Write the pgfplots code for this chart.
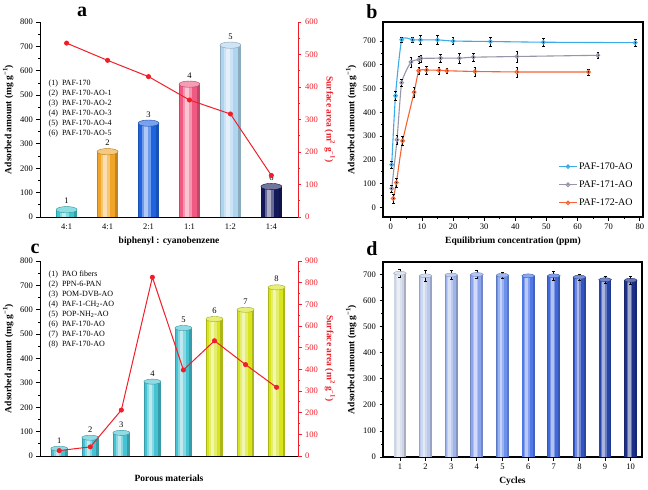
\documentclass[border=0pt]{standalone}
\usepackage{fontspec}
\setmainfont{Liberation Serif}
\usepackage{pgfplots}
\pgfplotsset{compat=1.18}
\definecolor{ca1}{RGB}{64,200,208}
\definecolor{ca2}{RGB}{240,165,40}
\definecolor{ca3}{RGB}{30,100,225}
\definecolor{ca4}{RGB}{240,90,130}
\definecolor{ca5}{RGB}{175,212,238}
\definecolor{ca6}{RGB}{20,25,90}
\definecolor{lred}{RGB}{240,30,40}
\definecolor{bblue}{RGB}{60,170,230}
\definecolor{bgray}{RGB}{150,150,170}
\definecolor{borange}{RGB}{245,100,50}
\definecolor{ccyan}{RGB}{70,195,210}
\definecolor{cyel}{RGB}{215,228,30}
\definecolor{d1}{RGB}{205,212,230}
\definecolor{d2}{RGB}{185,200,235}
\definecolor{d3}{RGB}{160,180,235}
\definecolor{d4}{RGB}{140,165,238}
\definecolor{d5}{RGB}{110,145,235}
\definecolor{d6}{RGB}{80,120,230}
\definecolor{d7}{RGB}{65,105,220}
\definecolor{d8}{RGB}{50,85,195}
\definecolor{d9}{RGB}{38,68,170}
\definecolor{d10}{RGB}{28,48,135}
\pgfdeclareplotmark{ell}{\pgfpathellipse{\pgfpointorigin}{\pgfqpoint{\pgfplotmarksize}{0pt}}{\pgfqpoint{0pt}{0.3\pgfplotmarksize}}\pgfusepathqfillstroke}
\pgfplotsset{
  base/.style={scale only axis, anchor=south west,
    /pgf/number format/assume math mode=true,
    tick label style={font=\fontsize{8.5}{10}\selectfont},
    label style={font=\fontsize{9.5}{11}\selectfont\bfseries},
    tick align=outside, major tick length=3.5pt, minor tick length=2pt,
    axis line style={line width=0.9pt,-}, every tick/.style={line width=0.8pt}},
}
% color, x, y, label
\newcommand\cylA[4]{%
 \addplot[ybar, bar shift=0pt, bar width=21pt, draw=none, fill=#1!80!black] coordinates {(#2,#3)};
 \addplot[ybar, bar shift=-1pt, bar width=16.8pt, draw=none, fill=#1] coordinates {(#2,#3)};
 \addplot[ybar, bar shift=-2pt, bar width=9.5pt, draw=none, fill=#1!65!white] coordinates {(#2,#3)};
 \addplot[ybar, bar shift=-2.5pt, bar width=4.2pt, draw=none, fill=#1!35!white] coordinates {(#2,#3)};
 \addplot[only marks, mark=ell, mark size=10.5pt, mark options={fill=#1!60!white, draw=#1!75!black, line width=0.4pt},
   nodes near coords={#4}, nodes near coords style={anchor=south, yshift=2.5pt, font=\fontsize{8.5}{10}\selectfont, black}] coordinates {(#2,#3)};}
\newcommand\cylC[4]{%
 \addplot[ybar, bar shift=0pt, bar width=17pt, draw=none, fill=#1!80!black] coordinates {(#2,#3)};
 \addplot[ybar, bar shift=-0.8pt, bar width=13.6pt, draw=none, fill=#1] coordinates {(#2,#3)};
 \addplot[ybar, bar shift=-1.7pt, bar width=7.6pt, draw=none, fill=#1!65!white] coordinates {(#2,#3)};
 \addplot[ybar, bar shift=-2pt, bar width=3.4pt, draw=none, fill=#1!35!white] coordinates {(#2,#3)};
 \addplot[only marks, mark=ell, mark size=8.5pt, mark options={fill=#1!60!white, draw=#1!75!black, line width=0.4pt},
   nodes near coords={#4}, nodes near coords style={anchor=south, yshift=2pt, font=\fontsize{8.5}{10}\selectfont, black}] coordinates {(#2,#3)};}
% color, x, y, err
\newcommand\cylD[4]{%
 \addplot[ybar, bar shift=0pt, bar width=12.8pt, draw=none, fill=#1!82!black] coordinates {(#2,#3)};
 \addplot[ybar, bar shift=-0.6pt, bar width=10.2pt, draw=none, fill=#1] coordinates {(#2,#3)};
 \addplot[ybar, bar shift=-1.3pt, bar width=5.8pt, draw=none, fill=#1!70!white] coordinates {(#2,#3)};
 \addplot[ybar, bar shift=-1.5pt, bar width=2.6pt, draw=none, fill=#1!40!white] coordinates {(#2,#3)};
 \addplot[only marks, mark=ell, mark size=6.4pt, mark options={fill=#1!65!white, draw=#1!80!black, line width=0.4pt},
   error bars/.cd, y dir=both, y explicit, error bar style={black, line width=0.7pt},
   error mark options={rotate=90, mark size=1.5pt, black, line width=0.7pt}] coordinates {(#2,#3)+-(0,#4)};}
\begin{document}
\begin{tikzpicture}
\useasboundingbox (0,0) rectangle (648pt,-490pt);
% ---------------- panel a
\begin{axis}[base, at={(40pt,-217pt)}, width=258pt, height=195pt,
  xmin=-0.65, xmax=5.65, ymin=0, ymax=800,
  axis y line*=left, axis x line*=bottom,
  xtick={0,...,5}, xticklabels={4:1,4:1,2:1,1:1,1:2,1:4}, x tick style={draw=none},
  ytick={0,100,...,800}, minor y tick num=1,
  ylabel={Adsorbed amount (mg g\textsuperscript{−1})}, xlabel={biphenyl : cyanobenzene}]
\cylA{ca1}{0}{30}{1}
\cylA{ca2}{1}{268}{2}
\cylA{ca3}{2}{385}{3}
\cylA{ca4}{3}{545}{4}
\cylA{ca5}{4}{705}{5}
\cylA{ca6}{5}{125}{6}
\node[anchor=north west, align=left, font=\fontsize{8}{10}\selectfont] at (rel axis cs:0.02,0.72)
 {(1)\ \ PAF-170\\(2)\ \ PAF-170-AO-1\\(3)\ \ PAF-170-AO-2\\(4)\ \ PAF-170-AO-3\\(5)\ \ PAF-170-AO-4\\(6)\ \ PAF-170-AO-5};
\end{axis}
\begin{axis}[base, at={(40pt,-217pt)}, width=258pt, height=195pt,
  xmin=-0.65, xmax=5.65, ymin=0, ymax=600,
  axis x line=none, axis y line*=right,
  ytick={0,100,...,600}, minor y tick num=1,
  y axis line style={lred}, ytick style={lred}, minor y tick style={lred}, yticklabel style={lred},
  ylabel={Surface area (m\textsuperscript{2} g\textsuperscript{−1})},
  ylabel style={lred, rotate=180}]
\addplot[lred, line width=1pt, mark=*, mark size=2pt] coordinates {(0,535)(1,482)(2,432)(3,360)(4,317)(5,128)};
\end{axis}
% ---------------- panel b
\begin{axis}[base, at={(383pt,-217pt)}, width=260pt, height=195pt,
  xmin=-2.5, xmax=81, ymin=-40, ymax=780,
  tick pos=left, axis line style={line width=1.1pt},
  xtick={0,10,...,80}, minor x tick num=1,
  ytick={0,100,...,700}, minor y tick num=1,
  ylabel={Adsorbed amount (mg g\textsuperscript{−1})}, xlabel={Equilibrium concentration (ppm)},
  legend style={draw=none, fill=none, at={(0.98,0.03)}, anchor=south east,
    font=\fontsize{10}{12}\selectfont, row sep=6pt},
  legend cell align=left,
  error bars/error bar style={black, line width=0.6pt}, error bars/error mark options={rotate=90, mark size=1.3pt, black}]
\addplot[bblue, line width=1.1pt, smooth, tension=0.3, mark=o, mark size=1.8pt, mark options={fill=white},
  error bars/.cd, y dir=both, y explicit] coordinates {
 (0.3,180)+-(0,15) (1.5,470)+-(0,20) (3.5,705)+-(0,12) (7,705)+-(0,12) (9.5,705)+-(0,18)
 (15,705)+-(0,18) (20,700)+-(0,15) (32,698)+-(0,20) (49,695)+-(0,18) (78.5,693)+-(0,15)};
\addplot[bgray, line width=1.1pt, smooth, tension=0.3, mark=o, mark size=1.8pt, mark options={fill=white},
  error bars/.cd, y dir=both, y explicit] coordinates {
 (0.3,80)+-(0,15) (2,285)+-(0,20) (3.5,525)+-(0,15) (6.5,612)+-(0,20) (9,622)+-(0,15) (9.7,627)+-(0,15)
 (16,628)+-(0,15) (22,628)+-(0,20) (26.5,632)+-(0,18) (40.5,635)+-(0,22) (66.5,640)+-(0,12)};
\addplot[borange, line width=1.1pt, smooth, tension=0.3, mark=o, mark size=1.8pt, mark options={fill=white},
  error bars/.cd, y dir=both, y explicit] coordinates {
 (0.8,38)+-(0,18) (1.8,105)+-(0,20) (3.8,280)+-(0,20) (7.5,485)+-(0,20) (9,575)+-(0,15) (11.5,578)+-(0,18)
 (15.5,577)+-(0,15) (18,575)+-(0,10) (27,572)+-(0,20) (40.5,570)+-(0,20) (63.5,570)+-(0,12)};
\legend{PAF-170-AO, PAF-171-AO, PAF-172-AO}
\end{axis}
% ---------------- panel c
\begin{axis}[base, at={(40pt,-456pt)}, width=258pt, height=195pt,
  xmin=-0.62, xmax=7.69, ymin=0, ymax=800,
  axis y line*=left, axis x line*=bottom,
  xtick=\empty,
  ytick={0,100,...,800}, minor y tick num=1,
  ylabel={Adsorbed amount (mg g\textsuperscript{−1})}, xlabel={Porous materials},
  xlabel style={yshift=-12pt}]
\cylC{ccyan}{0}{30}{1}
\cylC{ccyan}{1}{75}{2}
\cylC{ccyan}{2}{95}{3}
\cylC{ccyan}{3}{305}{4}
\cylC{ccyan}{4}{525}{5}
\cylC{cyel}{5}{562}{6}
\cylC{cyel}{6}{600}{7}
\cylC{cyel}{7}{692}{8}
\node[anchor=north west, align=left, font=\fontsize{8}{10}\selectfont] at (rel axis cs:0.02,0.97)
 {(1)\ \ PAO fibers\\(2)\ \ PPN-6-PAN\\(3)\ \ POM-DVB-AO\\(4)\ \ PAF-1-CH\textsubscript{2}-AO\\(5)\ \ POP-NH\textsubscript{2}-AO\\(6)\ \ PAF-170-AO\\(7)\ \ PAF-170-AO\\(8)\ \ PAF-170-AO};
\end{axis}
\begin{axis}[base, at={(40pt,-456pt)}, width=258pt, height=195pt,
  xmin=-0.62, xmax=7.69, ymin=0, ymax=900,
  axis x line=none, axis y line*=right,
  ytick={0,100,...,900}, minor y tick num=1,
  y axis line style={lred}, ytick style={lred}, minor y tick style={lred}, yticklabel style={lred},
  ylabel={Surface area (m\textsuperscript{2} g\textsuperscript{−1})},
  ylabel style={lred, rotate=180}]
\addplot[lred, line width=1pt, mark=*, mark size=2pt] coordinates {(0,25)(1,42)(2,212)(3,825)(4,397)(5,532)(6,422)(7,317)};
\end{axis}
% ---------------- panel d
\begin{axis}[base, at={(383pt,-457pt)}, width=259pt, height=195pt,
  xmin=0.34, xmax=10.44, ymin=0, ymax=748,
  tick pos=left, axis line style={line width=1.1pt},
  xtick={1,...,10}, ytick={0,100,...,700}, minor y tick num=1,
  ylabel={Adsorbed amount (mg g\textsuperscript{−1})}, xlabel={Cycles}]
\cylD{d1}{1}{705}{15}
\cylD{d2}{2}{695}{20}
\cylD{d3}{3}{698}{18}
\cylD{d4}{4}{700}{15}
\cylD{d5}{5}{697}{10}
\cylD{d6}{6}{695}{3}
\cylD{d7}{7}{695}{17}
\cylD{d8}{8}{690}{12}
\cylD{d9}{9}{680}{12}
\cylD{d10}{10}{678}{15}
\end{axis}
% panel letters
\node[font=\fontsize{20}{22}\selectfont\bfseries] at (82pt,-12pt) {a};
\node[font=\fontsize{20}{22}\selectfont\bfseries] at (372pt,-12pt) {b};
\node[font=\fontsize{20}{22}\selectfont\bfseries] at (35pt,-249pt) {c};
\node[font=\fontsize{20}{22}\selectfont\bfseries] at (372pt,-249pt) {d};
\end{tikzpicture}
\end{document}
